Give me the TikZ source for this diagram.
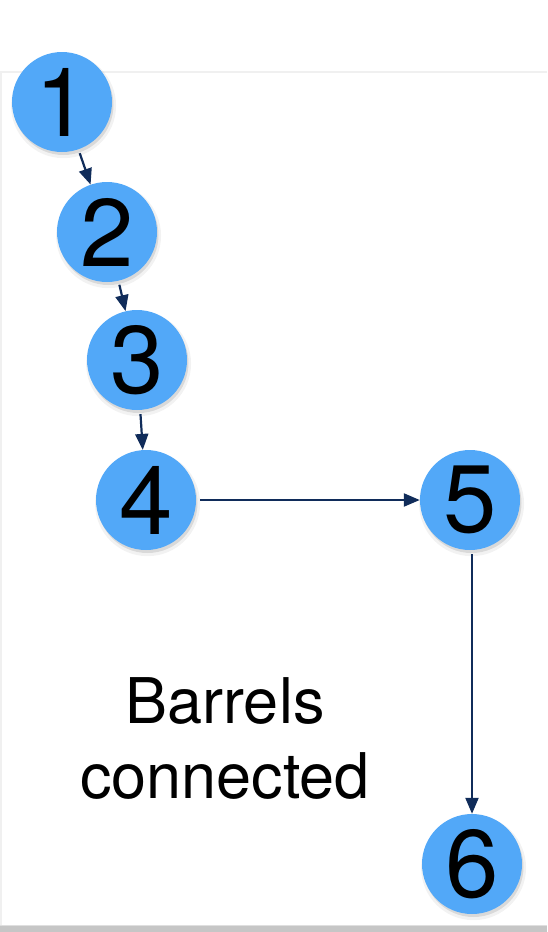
\documentclass[tikz,border=0pt]{standalone}
\usepackage{fontspec}
\setmainfont{TeX Gyre Heros}
\usetikzlibrary{arrows.meta,shadows}
\definecolor{barrelblue}{RGB}{82,168,248}
\definecolor{linknavy}{RGB}{16,44,90}
\tikzset{
  barrel/.style={circle, fill=barrelblue, minimum size=100pt, inner sep=0pt,
    font=\fontsize{96}{96}\selectfont,
    drop shadow={shadow xshift=1.5pt, shadow yshift=-3.5pt, opacity=.1, shadow scale=1.05},
    drop shadow={shadow xshift=1.5pt, shadow yshift=-3pt, opacity=.22}},
  link/.style={-{Triangle[length=16pt,width=13pt]}, draw=linknavy, fill=linknavy, line width=2.2pt, shorten <=4pt}
}
\begin{document}
\begin{tikzpicture}[x=1pt, y=-1pt]
        \useasboundingbox (0,0) rectangle (547,932);
        % slide frame
        \draw[gray!12, line width=1.5pt] (1,926) -- (1,72) -- (547,72);
        \fill[gray!45] (0,926) rectangle (547,932);
        \fill[gray!25] (0,924.5) rectangle (547,926);

        \node[barrel] (n1) at (62,102) {1};
        \node[barrel] (n2) at (107,232) {2};
        \node[barrel] (n3) at (137,360) {3};
        \node[barrel] (n4) at (146,500) {4};
        \node[barrel] (n5) at (470,500) {5};
        \node[barrel] (n6) at (472,864) {6};

        \node[align=center, inner sep=0pt, font=\fontsize{63}{75}\selectfont] (caption) at (225,738) {Barrels\\connected};

        \draw[link] (n1) -- (n2);
        \draw[link] (n2) -- (n3);
        \draw[link] (n3) -- (n4);
        \draw[link] (n4) -- (n5);
        \draw[link] (n5.south -| n6) -- (n6);
    \end{tikzpicture}
\end{document}
